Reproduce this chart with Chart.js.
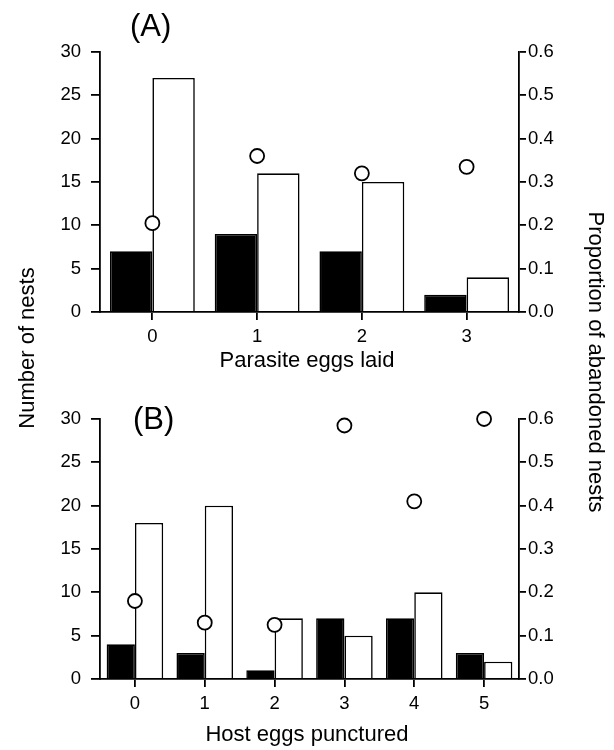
<!DOCTYPE html>
<html>
<head>
<meta charset="utf-8">
<script src="https://cdn.jsdelivr.net/npm/chart.js@4"></script>
<style>
  body { margin: 0; background: #fff; }
  #wrap { position: relative; width: 614px; height: 750px; font-family: "Liberation Sans", Arial, Helvetica, sans-serif; color: #000; }
  canvas { position: absolute; left: 0; }
  .lbl { position: absolute; white-space: nowrap; line-height: 1; }
  .title { position: absolute; left: 0; width: 614px; text-align: center; font-size: 22px; line-height: 1; }
  .ytitle { position: absolute; width: 320px; height: 24px; line-height: 24px; text-align: center; font-size: 22px; }
</style>
</head>
<body>
<div id="wrap">
  <canvas id="chartA" width="614" height="380" style="top:0"></canvas>
  <canvas id="chartB" width="614" height="370" style="top:380px"></canvas>
  <div class="lbl" style="left:130px; top:10px; font-size:31px;">(A)</div>
  <div class="lbl" style="left:133px; top:403px; font-size:31px;">(B)</div>
  <div class="title" style="top:349px;">Parasite eggs laid</div>
  <div class="title" style="top:723px;">Host eggs punctured</div>
  <div class="ytitle" style="left:-133px; top:336px; transform: rotate(-90deg);">Number of nests</div>
  <div class="ytitle" style="left:436px; top:350px; transform: rotate(90deg);">Proportion of abandoned nests</div>
</div>
<script>
// panel A: parasite eggs laid
const catsA = ['0', '1', '2', '3'];
const abandonedA = [7, 9, 7, 2];
const acceptedA = [27, 16, 15, 4];
const propA = [0.205, 0.36, 0.32, 0.335];

// panel B: host eggs punctured
const catsB = ['0', '1', '2', '3', '4', '5'];
const abandonedB = [4, 3, 1, 7, 7, 3];
const acceptedB = [18, 20, 7, 5, 10, 2];
const propB = [0.18, 0.13, 0.125, 0.585, 0.41, 0.6];

Chart.defaults.font.family = '"Liberation Sans", Arial, Helvetica, sans-serif';
Chart.defaults.font.size = 18;
Chart.defaults.color = '#000';

function makeChart(id, cats, black, white, prop, topPad, xHeight) {
  const ctx = document.getElementById(id).getContext('2d');
  return new Chart(ctx, {
    data: {
      labels: cats,
      datasets: [
        {
          type: 'line', data: prop, yAxisID: 'y1', showLine: false, clip: false,
          pointRadius: 7, pointBorderWidth: 1.8,
          pointBackgroundColor: '#fff', pointBorderColor: '#000'
        },
        {
          type: 'bar', data: black, yAxisID: 'y',
          backgroundColor: '#000', borderColor: '#000', borderWidth: 1.6,
          categoryPercentage: 0.81, barPercentage: 1
        },
        {
          type: 'bar', data: white, yAxisID: 'y',
          backgroundColor: '#fff', borderColor: '#000', borderWidth: 1.6,
          categoryPercentage: 0.81, barPercentage: 1
        }
      ]
    },
    options: {
      responsive: false,
      animation: false,
      devicePixelRatio: 1,
      layout: { padding: { top: topPad, left: 0, right: 0, bottom: 0 } },
      plugins: { legend: { display: false }, tooltip: { enabled: false } },
      scales: {
        x: {
          type: 'category', offset: true,
          grid: { offset: false, drawOnChartArea: false, drawTicks: true, tickLength: 8, color: '#000', lineWidth: 1.8 },
          border: { display: true, color: '#000', width: 1.8 },
          ticks: { padding: 6, font: { size: 18.5 } },
          afterFit: s => { s.height = xHeight; }
        },
        y: {
          position: 'left', min: 0, max: 30,
          grid: { drawOnChartArea: false, drawTicks: true, tickLength: 9, color: '#000', lineWidth: 1.8 },
          border: { display: true, color: '#000', width: 1.8 },
          ticks: { stepSize: 5, padding: 10, font: { size: 18.5 } },
          afterFit: s => { s.width = 100; }
        },
        y1: {
          position: 'right', min: 0, max: 0.6,
          grid: { drawOnChartArea: false, drawTicks: true, tickLength: 7, color: '#000', lineWidth: 1.8 },
          border: { display: true, color: '#000', width: 1.8 },
          ticks: { stepSize: 0.1, padding: 2, font: { size: 18.5 }, callback: v => v.toFixed(1) },
          afterFit: s => { s.width = 95; }
        }
      }
    }
  });
}

makeChart('chartA', catsA, abandonedA, acceptedA, propA, 52, 68);
makeChart('chartB', catsB, abandonedB, acceptedB, propB, 39, 71);
</script>
</body>
</html>
